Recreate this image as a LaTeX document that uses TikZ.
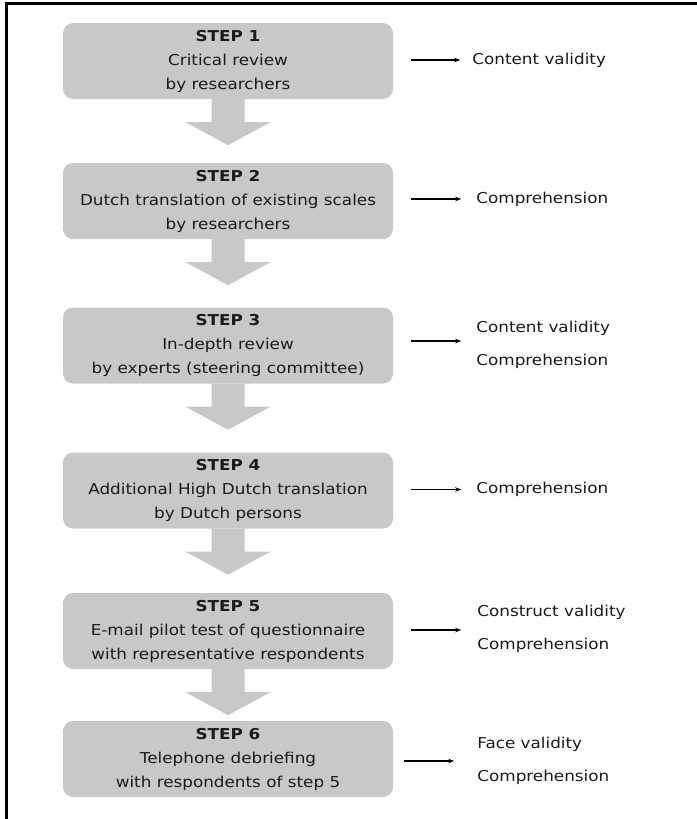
\documentclass[tikz,border=0pt]{standalone}
\usepackage{fontspec}
\setmainfont[FakeStretch=1.12]{DejaVu Sans}
\usetikzlibrary{arrows.meta}
\definecolor{boxgray}{HTML}{C8C8C8}
\definecolor{inkgray}{HTML}{1A1A1A}
% wide grey arrow hanging below a step box
\newcommand\flowarrow[1]{%
  \fill[boxgray] (#1.south) ++(-16.5,0) -- ++(0,23) -- ++(-26,0)
    -- ++(42.5,23) -- ++(42.5,-23) -- ++(-26,0) -- ++(0,-23) -- cycle;}
\begin{document}
\begin{tikzpicture}[x=1pt,y=-1pt,
  stepbox/.style={fill=boxgray, rounded corners=10pt, minimum width=330pt,
    minimum height=76pt, align=center, inner sep=0pt, text=inkgray,
    font=\fontsize{15}{24}\selectfont},
  outcome/.style={anchor=west, align=left, inner sep=0pt, text=inkgray,
    font=\fontsize{15}{33}\selectfont},
  smallarrow/.style={-{Stealth[length=6pt,width=4.5pt]}, line width=1.1pt},
]
\useasboundingbox (0,0) rectangle (696,819);
% outer frame
\draw[line width=3pt, line join=miter] (6.5,830) -- (6.5,3.5) -- (710,3.5);

% steps
\node[stepbox] (s1) at (228,61)    {\textbf{STEP 1}\\Critical review\\by researchers};
\node[stepbox] (s2) at (228,201)   {\textbf{STEP 2}\\Dutch translation of existing scales\\by researchers};
\node[stepbox] (s3) at (228,345.5) {\textbf{STEP 3}\\In-depth review\\by experts (steering committee)};
\node[stepbox] (s4) at (228,490.5) {\textbf{STEP 4}\\Additional High Dutch translation\\by Dutch persons};
\node[stepbox] (s5) at (228,631)   {\textbf{STEP 5}\\E-mail pilot test of questionnaire\\with representative respondents};
\node[stepbox] (s6) at (228,759)   {\textbf{STEP 6}\\Telephone debriefing\\with respondents of step 5};

% flow between steps
\flowarrow{s1}
\flowarrow{s2}
\flowarrow{s3}
\flowarrow{s4}
\flowarrow{s5}

% outcomes of each step
\node[outcome] (o1) at ([xshift=79pt,yshift=1pt]s1.east)   {Content validity};
\node[outcome] (o2) at ([xshift=83pt,yshift=2pt]s2.east)   {Comprehension};
\node[outcome] (o3) at ([xshift=83pt,yshift=1pt]s3.east)   {Content validity\\Comprehension};
\node[outcome] (o4) at ([xshift=83pt,yshift=1pt]s4.east)   {Comprehension};
\node[outcome] (o5) at ([xshift=84pt,yshift=2.5pt]s5.east) {Construct validity\\Comprehension};
\node[outcome] (o6) at ([xshift=84pt,yshift=-1.5pt]s6.east) {Face validity\\Comprehension};

\draw[smallarrow] ([xshift=18pt,yshift=1pt]s1.east)   -- ([xshift=-12pt]o1.west);
\draw[smallarrow] ([xshift=18pt,yshift=2pt]s2.east)   -- ([xshift=-15pt]o2.west);
\draw[smallarrow] ([xshift=18pt,yshift=4.5pt]s3.east) -- ([xshift=-15pt,yshift=3.5pt]o3.west);
\draw[smallarrow] ([xshift=18pt,yshift=1pt]s4.east)   -- ([xshift=-15pt]o4.west);
\draw[smallarrow] ([xshift=18pt,yshift=1pt]s5.east)   -- ([xshift=-16pt,yshift=-1.5pt]o5.west);
\draw[smallarrow] ([xshift=11pt,yshift=-2pt]s6.east)  -- ([xshift=-23pt,yshift=-0.5pt]o6.west);
\end{tikzpicture}
\end{document}
